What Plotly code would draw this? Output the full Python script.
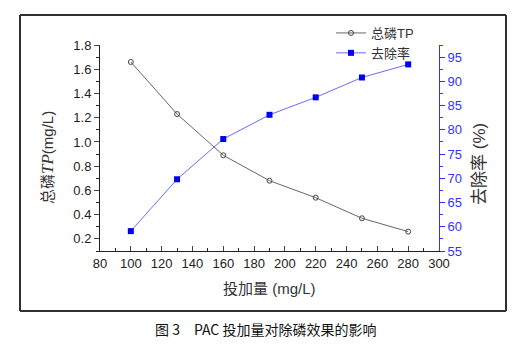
import plotly.graph_objects as go

dosage = [100, 130, 160, 190, 220, 250, 280]
tp_values = [1.66, 1.23, 0.89, 0.68, 0.54, 0.37, 0.26]
removal_values = [59.1, 69.8, 78.1, 83.1, 86.7, 90.8, 93.5]

x_ticks = list(range(80, 301, 20))
left_ticks = [0.2, 0.4, 0.6, 0.8, 1.0, 1.2, 1.4, 1.6, 1.8]
right_ticks = [55, 60, 65, 70, 75, 80, 85, 90, 95]

FONT = "Arial, Liberation Sans, Noto Sans CJK SC"
CJK = "Noto Sans CJK SC"

OFF = 8
W, H = 522 - OFF, 357 - OFF
FL, FR, FT, FB = 20, 506, 15, 311
L, R, T, B = 100, 439, 45, 251


def fx(x):
    return (x - FL) / (FR - FL)


def fy(y):
    return (FB - y) / (FB - FT)


fig = go.Figure()
fig.add_trace(go.Scatter(
    x=dosage, y=tp_values, name="总磷TP", mode="lines+markers",
    line=dict(color="#666666", width=1),
    marker=dict(symbol="circle-open", size=5, color="#444444", line=dict(width=1)),
    xaxis="x", yaxis="y"))
fig.add_trace(go.Scatter(
    x=dosage, y=removal_values, name="去除率", mode="lines+markers",
    line=dict(color="#6b6bff", width=1),
    marker=dict(symbol="square", size=6, color="#0000ee"),
    xaxis="x", yaxis="y2"))

frame_line = dict(color="#303030", width=2)
frame_shapes = [
    dict(type="line", xref="paper", yref="paper", x0=0, x1=1, y0=0, y1=0, line=frame_line),
    dict(type="line", xref="paper", yref="paper", x0=0, x1=1, y0=1, y1=1, line=frame_line),
    dict(type="line", xref="paper", yref="paper", x0=0, x1=0, y0=0, y1=1, line=frame_line),
    dict(type="line", xref="paper", yref="paper", x0=1, x1=1, y0=0, y1=1, line=frame_line),
]

fig.update_layout(
    width=W, height=H,
    margin=dict(l=FL - OFF, r=(W + OFF) - FR, t=FT - OFF, b=(H + OFF) - FB, pad=0, autoexpand=False),
    paper_bgcolor="white", plot_bgcolor="white",
    font=dict(family=FONT, size=13, color="#222222"),
    showlegend=True,
    legend=dict(x=fx(331), y=fy(18), xanchor="left", yanchor="top",
                bgcolor="rgba(0,0,0,0)", font=dict(size=13, family=FONT, color="#333333"),
                tracegroupgap=0, itemwidth=30),
    xaxis=dict(domain=[fx(L), fx(R)], anchor="y", range=[80, 300], tickvals=x_ticks,
               ticks="inside", ticklen=5, automargin=False,
               showline=True, linecolor="#222222", linewidth=1, showgrid=False, zeroline=False,
               tickfont=dict(size=13, color="#222222"),
               minor=dict(dtick=10, tick0=80, ticks="inside", ticklen=3, tickcolor="#222222")),
    yaxis=dict(domain=[fy(B), fy(T)], anchor="x", range=[0.1, 1.8], tickvals=left_ticks,
               tickformat=".1f", ticks="outside", ticklen=5, automargin=False,
               showline=True, linecolor="#222222", linewidth=1, showgrid=False, zeroline=False,
               tickfont=dict(size=13, color="#222222"),
               minor=dict(dtick=0.1, tick0=0.1, ticks="outside", ticklen=3, tickcolor="#222222")),
    yaxis2=dict(range=[55, 97.5], tickvals=right_ticks, overlaying="y", anchor="x", side="right",
                ticks="outside", ticklen=5, tickcolor="#3333ff", automargin=False,
                showline=True, linecolor="#3333ff", linewidth=1, showgrid=False, zeroline=False,
                tickfont=dict(size=13, color="#3333ff"),
                minor=dict(dtick=2.5, tick0=55, ticks="outside", ticklen=3, tickcolor="#3333ff")),
    shapes=frame_shapes,
    annotations=[
        dict(text="投加量 (mg/L)", xref="paper", yref="paper", x=fx(269), y=fy(288),
             xanchor="center", yanchor="middle", showarrow=False,
             font=dict(size=15, family=FONT, color="#333333")),
        dict(text="图 3　PAC 投加量对除磷效果的影响", xref="paper", yref="paper",
             x=fx(265), y=fy(329), xanchor="center", yanchor="middle", showarrow=False,
             font=dict(size=14, family=CJK, color="#111111")),
        dict(text="总磷<span style=\"font-family:'Liberation Serif';font-style:italic;font-size:17px\">TP</span>(mg/L)",
             xref="paper", yref="paper", x=fx(47), y=fy(158), xanchor="center", yanchor="middle",
             textangle=-90, showarrow=False, font=dict(size=15, family=FONT, color="#333333")),
        dict(text="去除率 (%)", xref="paper", yref="paper", x=fx(479), y=fy(164),
             xanchor="center", yanchor="middle", textangle=-90, showarrow=False,
             font=dict(size=17, family=FONT, color="#333333")),
    ],
)

fig.write_html("out.html")
